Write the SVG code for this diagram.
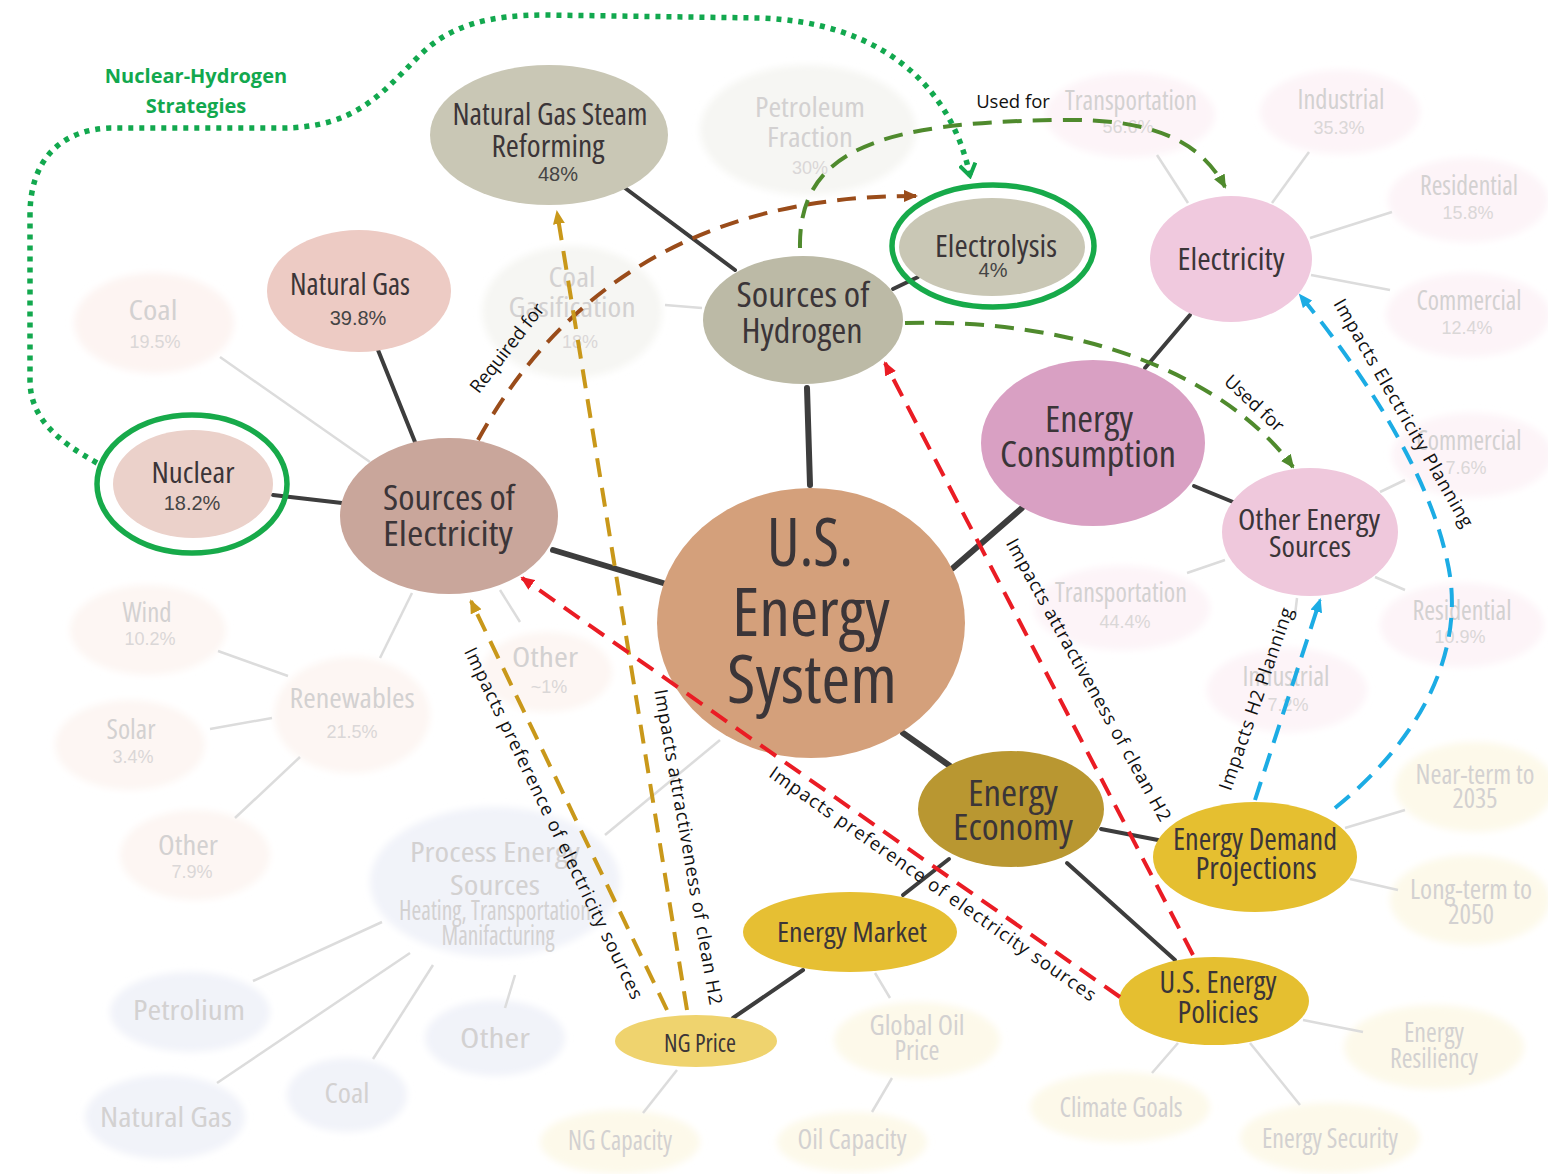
<svg xmlns="http://www.w3.org/2000/svg" width="1548" height="1174" viewBox="0 0 1548 1174">
<style>
  .t { font-family: 'Ubuntu Condensed','Open Sans','Noto Sans',sans-serif; font-stretch: condensed; text-anchor: middle; fill: #3b3538; }
  .ft { font-family: 'Ubuntu Condensed','Open Sans','Noto Sans',sans-serif; font-stretch: condensed; text-anchor: middle; fill: #d3d1d1; font-size: 28px; }
  .p { font-family: 'Liberation Sans',Arial,sans-serif; text-anchor: middle; fill: #444; font-size: 20px; }
  .fp { font-family: 'Liberation Sans',Arial,sans-serif; text-anchor: middle; fill: #dad7d7; font-size: 18px; }
  .lbl { font-family: 'Open Sans','Noto Sans',sans-serif; font-size: 18.5px; fill: #111; text-anchor: middle; }
  .strat { font-family: 'Open Sans','Noto Sans',sans-serif; font-size: 20px; font-weight: bold; fill: #12a84e; text-anchor: middle; }
  .link { stroke: #3d3d3d; stroke-width: 4; fill: none; stroke-linecap: round; }
  .link.main { stroke-width: 6; }
  .faint { stroke: #dcdcdc; stroke-width: 2.5; fill: none; }
  .dash { fill: none; stroke-width: 4; stroke-dasharray: 19 11; }
  .brown { stroke: #9a4c1a; }
  .green { stroke: #4f8a2d; }
  .gold { stroke: #c9981a; }
  .red { stroke: #ea1c24; }
  .blue { stroke: #1cace4; }
  .dots { fill: none; stroke: #12a84e; stroke-width: 5.5; stroke-dasharray: 5 6; }
  .ring { fill: none; stroke: #17aa4a; stroke-width: 5.5; }
  .soft { filter: url(#soft); }
  .fpink { fill: #fdf4f2; }
  .fgray { fill: #f6f6f3; }
  .fviolet { fill: #fdf4f8; }
  .fpeach { fill: #fdf6f3; }
  .fblue { fill: #f1f3f9; }
  .fyellow { fill: #fdf9ea; }
</style>
<defs>
  <filter id="soft" x="-20%" y="-20%" width="140%" height="140%">
    <feGaussianBlur stdDeviation="3.5"/>
  </filter>
  <marker id="a-brown" viewBox="0 0 14 12" refX="12" refY="6" markerWidth="14" markerHeight="12" markerUnits="userSpaceOnUse" orient="auto"><path d="M0,0 L14,6 L0,12 Z" fill="#9a4c1a"/></marker>
  <marker id="a-green" viewBox="0 0 14 12" refX="12" refY="6" markerWidth="14" markerHeight="12" markerUnits="userSpaceOnUse" orient="auto"><path d="M0,0 L14,6 L0,12 Z" fill="#4f8a2d"/></marker>
  <marker id="a-gold" viewBox="0 0 14 12" refX="12" refY="6" markerWidth="14" markerHeight="12" markerUnits="userSpaceOnUse" orient="auto"><path d="M0,0 L14,6 L0,12 Z" fill="#c9981a"/></marker>
  <marker id="a-red" viewBox="0 0 14 12" refX="12" refY="6" markerWidth="14" markerHeight="12" markerUnits="userSpaceOnUse" orient="auto"><path d="M0,0 L14,6 L0,12 Z" fill="#ea1c24"/></marker>
  <marker id="a-blue" viewBox="0 0 14 12" refX="12" refY="6" markerWidth="14" markerHeight="12" markerUnits="userSpaceOnUse" orient="auto"><path d="M0,0 L14,6 L0,12 Z" fill="#1cace4"/></marker>
  <marker id="a-dots" viewBox="0 0 16 18" refX="13" refY="9" markerWidth="16" markerHeight="18" markerUnits="userSpaceOnUse" orient="auto"><path d="M1,1 L13,9 L1,17" fill="none" stroke="#12a84e" stroke-width="4"/></marker>
</defs>

<rect width="1548" height="1174" fill="#ffffff"/>

<!-- faded secondary nodes -->
<g id="faded-nodes">
  <g id="n-coal-elec"><ellipse class="soft fpink" cx="154" cy="323" rx="80" ry="50"/><text class="ft" x="153" y="320" textLength="49" lengthAdjust="spacingAndGlyphs">Coal</text><text class="fp" x="155" y="348">19.5%</text></g>
  <g id="n-coal-gas"><ellipse class="soft fgray" cx="572" cy="312" rx="90" ry="66"/><text class="ft" x="572" y="287" textLength="47" lengthAdjust="spacingAndGlyphs">Coal</text><text class="ft" x="572" y="317" textLength="127" lengthAdjust="spacingAndGlyphs">Gasification</text><text class="fp" x="580" y="348">18%</text></g>
  <g id="n-petro-frac"><ellipse class="soft fgray" cx="808" cy="130" rx="108" ry="65"/><text class="ft" x="810" y="117" textLength="110" lengthAdjust="spacingAndGlyphs">Petroleum</text><text class="ft" x="810" y="147" textLength="86" lengthAdjust="spacingAndGlyphs">Fraction</text><text class="fp" x="810" y="174">30%</text></g>
  <g id="n-transp-elec"><ellipse class="soft fviolet" cx="1130" cy="115" rx="85" ry="42"/><text class="ft" x="1131" y="110" font-size="25" textLength="132" lengthAdjust="spacingAndGlyphs">Transportation</text><text class="fp" x="1128" y="133">56.6%</text></g>
  <g id="n-ind-elec"><ellipse class="soft fviolet" cx="1340" cy="112" rx="80" ry="42"/><text class="ft" x="1341" y="109" font-size="25" textLength="87" lengthAdjust="spacingAndGlyphs">Industrial</text><text class="fp" x="1339" y="134">35.3%</text></g>
  <g id="n-res-elec"><ellipse class="soft fviolet" cx="1468" cy="200" rx="80" ry="42"/><text class="ft" x="1469" y="195" font-size="25" textLength="98" lengthAdjust="spacingAndGlyphs">Residential</text><text class="fp" x="1468" y="219">15.8%</text></g>
  <g id="n-com-elec"><ellipse class="soft fviolet" cx="1468" cy="315" rx="82" ry="42"/><text class="ft" x="1469" y="310" font-size="25" textLength="105" lengthAdjust="spacingAndGlyphs">Commercial</text><text class="fp" x="1467" y="334">12.4%</text></g>
  <g id="n-com-other"><ellipse class="soft fviolet" cx="1472" cy="455" rx="80" ry="42"/><text class="ft" x="1469" y="450" font-size="25" textLength="105" lengthAdjust="spacingAndGlyphs">Commercial</text><text class="fp" x="1466" y="474">7.6%</text></g>
  <g id="n-res-other"><ellipse class="soft fviolet" cx="1462" cy="625" rx="82" ry="42"/><text class="ft" x="1462" y="620" font-size="25" textLength="99" lengthAdjust="spacingAndGlyphs">Residential</text><text class="fp" x="1460" y="643">10.9%</text></g>
  <g id="n-transp-other"><ellipse class="soft fviolet" cx="1122" cy="608" rx="88" ry="42"/><text class="ft" x="1121" y="602" font-size="25" textLength="132" lengthAdjust="spacingAndGlyphs">Transportation</text><text class="fp" x="1125" y="628">44.4%</text></g>
  <g id="n-ind-other"><ellipse class="soft fviolet" cx="1287" cy="690" rx="80" ry="42"/><text class="ft" x="1286" y="686" font-size="25" textLength="87" lengthAdjust="spacingAndGlyphs">Industrial</text><text class="fp" x="1288" y="711">7.2%</text></g>
  <g id="n-wind"><ellipse class="soft fpeach" cx="148" cy="630" rx="78" ry="45"/><text class="ft" x="147" y="622" font-size="25" textLength="49" lengthAdjust="spacingAndGlyphs">Wind</text><text class="fp" x="150" y="645">10.2%</text></g>
  <g id="n-solar"><ellipse class="soft fpeach" cx="130" cy="745" rx="75" ry="45"/><text class="ft" x="131" y="739" font-size="25" textLength="49" lengthAdjust="spacingAndGlyphs">Solar</text><text class="fp" x="133" y="763">3.4%</text></g>
  <g id="n-renew"><ellipse class="soft fpeach" cx="352" cy="715" rx="78" ry="58"/><text class="ft" x="352" y="708" textLength="125" lengthAdjust="spacingAndGlyphs">Renewables</text><text class="fp" x="352" y="738">21.5%</text></g>
  <g id="n-other-elec"><ellipse class="soft fpeach" cx="547" cy="672" rx="65" ry="40"/><text class="ft" x="545" y="667" textLength="66" lengthAdjust="spacingAndGlyphs">Other</text><text class="fp" x="549" y="693">~1%</text></g>
  <g id="n-other-renew"><ellipse class="soft fpeach" cx="195" cy="855" rx="75" ry="45"/><text class="ft" x="188" y="855" font-size="25" textLength="60" lengthAdjust="spacingAndGlyphs">Other</text><text class="fp" x="192" y="878">7.9%</text></g>
  <g id="n-process"><ellipse class="soft fblue" cx="495" cy="882" rx="125" ry="75"/><text class="ft" x="495" y="862" font-size="30" textLength="170" lengthAdjust="spacingAndGlyphs">Process Energy</text><text class="ft" x="495" y="895" font-size="30" textLength="90" lengthAdjust="spacingAndGlyphs">Sources</text><text class="ft" x="495" y="920" font-size="17" textLength="192" lengthAdjust="spacingAndGlyphs">Heating, Transportation</text><text class="ft" x="498" y="945" font-size="17" textLength="113" lengthAdjust="spacingAndGlyphs">Manifacturing</text></g>
  <g id="n-petrolium"><ellipse class="soft fblue" cx="190" cy="1012" rx="80" ry="40"/><text class="ft" x="189" y="1020" font-size="32" textLength="112" lengthAdjust="spacingAndGlyphs">Petrolium</text></g>
  <g id="n-natgas-proc"><ellipse class="soft fblue" cx="165" cy="1117" rx="80" ry="42"/><text class="ft" x="166" y="1127" font-size="32" textLength="132" lengthAdjust="spacingAndGlyphs">Natural Gas</text></g>
  <g id="n-coal-proc"><ellipse class="soft fblue" cx="347" cy="1095" rx="60" ry="37"/><text class="ft" x="347" y="1103" font-size="32" textLength="45" lengthAdjust="spacingAndGlyphs">Coal</text></g>
  <g id="n-other-proc"><ellipse class="soft fblue" cx="495" cy="1038" rx="70" ry="38"/><text class="ft" x="495" y="1048" font-size="32" textLength="70" lengthAdjust="spacingAndGlyphs">Other</text></g>
  <g id="n-ng-capacity"><ellipse class="soft fyellow" cx="620" cy="1142" rx="80" ry="32"/><text class="ft" x="620" y="1150" font-size="24" textLength="104" lengthAdjust="spacingAndGlyphs">NG Capacity</text></g>
  <g id="n-oil-price"><ellipse class="soft fyellow" cx="917" cy="1040" rx="83" ry="38"/><text class="ft" x="917" y="1035" font-size="23" textLength="95" lengthAdjust="spacingAndGlyphs">Global Oil</text><text class="ft" x="917" y="1060" font-size="23" textLength="45" lengthAdjust="spacingAndGlyphs">Price</text></g>
  <g id="n-oil-capacity"><ellipse class="soft fyellow" cx="852" cy="1142" rx="75" ry="30"/><text class="ft" x="852" y="1149" font-size="24" textLength="109" lengthAdjust="spacingAndGlyphs">Oil Capacity</text></g>
  <g id="n-near-term"><ellipse class="soft fyellow" cx="1475" cy="787" rx="80" ry="45"/><text class="ft" x="1475" y="784" font-size="22" textLength="119" lengthAdjust="spacingAndGlyphs">Near-term to</text><text class="ft" x="1475" y="808" font-size="22" textLength="45" lengthAdjust="spacingAndGlyphs">2035</text></g>
  <g id="n-long-term"><ellipse class="soft fyellow" cx="1470" cy="900" rx="80" ry="45"/><text class="ft" x="1471" y="899" font-size="22" textLength="122" lengthAdjust="spacingAndGlyphs">Long-term to</text><text class="ft" x="1471" y="924" font-size="22" textLength="46" lengthAdjust="spacingAndGlyphs">2050</text></g>
  <g id="n-resiliency"><ellipse class="soft fyellow" cx="1434" cy="1047" rx="90" ry="42"/><text class="ft" x="1434" y="1042" font-size="22" textLength="60" lengthAdjust="spacingAndGlyphs">Energy</text><text class="ft" x="1434" y="1068" font-size="22" textLength="88" lengthAdjust="spacingAndGlyphs">Resiliency</text></g>
  <g id="n-climate"><ellipse class="soft fyellow" cx="1120" cy="1107" rx="90" ry="35"/><text class="ft" x="1121" y="1117" font-size="24" textLength="123" lengthAdjust="spacingAndGlyphs">Climate Goals</text></g>
  <g id="n-security"><ellipse class="soft fyellow" cx="1330" cy="1138" rx="90" ry="35"/><text class="ft" x="1330" y="1148" font-size="24" textLength="136" lengthAdjust="spacingAndGlyphs">Energy Security</text></g>
</g>

<!-- tree links -->
<g id="connectors">
  <g id="faint-links">
    <line class="faint" x1="220" y1="357" x2="370" y2="462"/>
    <line class="faint" x1="412" y1="593" x2="380" y2="658"/>
    <line class="faint" x1="500" y1="590" x2="520" y2="622"/>
    <line class="faint" x1="665" y1="305" x2="702" y2="308"/>
    <line class="faint" x1="1188" y1="203" x2="1157" y2="155"/>
    <line class="faint" x1="1272" y1="203" x2="1309" y2="152"/>
    <line class="faint" x1="1310" y1="238" x2="1392" y2="212"/>
    <line class="faint" x1="1311" y1="275" x2="1390" y2="290"/>
    <line class="faint" x1="1380" y1="492" x2="1405" y2="480"/>
    <line class="faint" x1="1375" y1="577" x2="1405" y2="590"/>
    <line class="faint" x1="1225" y1="560" x2="1187" y2="573"/>
    <line class="faint" x1="1297" y1="598" x2="1295" y2="615"/>
    <line class="faint" x1="218" y1="651" x2="288" y2="676"/>
    <line class="faint" x1="210" y1="729" x2="272" y2="718"/>
    <line class="faint" x1="300" y1="757" x2="235" y2="818"/>
    <line class="faint" x1="720" y1="740" x2="605" y2="835"/>
    <line class="faint" x1="253" y1="981" x2="382" y2="922"/>
    <line class="faint" x1="217" y1="1083" x2="410" y2="953"/>
    <line class="faint" x1="373" y1="1059" x2="433" y2="965"/>
    <line class="faint" x1="505" y1="1008" x2="515" y2="975"/>
    <line class="faint" x1="875" y1="973" x2="890" y2="998"/>
    <line class="faint" x1="677" y1="1070" x2="643" y2="1113"/>
    <line class="faint" x1="892" y1="1078" x2="872" y2="1112"/>
    <line class="faint" x1="1345" y1="828" x2="1405" y2="810"/>
    <line class="faint" x1="1350" y1="879" x2="1398" y2="890"/>
    <line class="faint" x1="1303" y1="1020" x2="1363" y2="1032"/>
    <line class="faint" x1="1178" y1="1043" x2="1152" y2="1073"/>
    <line class="faint" x1="1250" y1="1043" x2="1300" y2="1105"/>
  </g>
  <g id="solid-links">
    <line class="link main" x1="663" y1="583" x2="553" y2="550"/>
    <line class="link main" x1="807" y1="388" x2="810" y2="485"/>
    <line class="link main" x1="953" y1="568" x2="1022" y2="508"/>
    <line class="link main" x1="903" y1="733" x2="950" y2="766"/>
    <line class="link" x1="273" y1="495" x2="342" y2="503"/>
    <line class="link" x1="378" y1="350" x2="415" y2="442"/>
    <line class="link" x1="625" y1="188" x2="735" y2="270"/>
    <line class="link" x1="893" y1="289" x2="918" y2="277"/>
    <line class="link" x1="1145" y1="368" x2="1190" y2="315"/>
    <line class="link" x1="1194" y1="486" x2="1233" y2="502"/>
    <line class="link" x1="1101" y1="829" x2="1158" y2="840"/>
    <line class="link" x1="1067" y1="863" x2="1175" y2="960"/>
    <line class="link" x1="949" y1="859" x2="903" y2="895"/>
    <line class="link" x1="803" y1="970" x2="733" y2="1018"/>
  </g>
</g>

<!-- primary nodes -->
<g id="nodes">
  <g id="n-us-energy"><ellipse cx="811" cy="623" rx="154" ry="135" fill="#d4a07b"/>
    <text class="t" x="810" y="566" font-size="68" textLength="86" lengthAdjust="spacingAndGlyphs">U.S.</text>
    <text class="t" x="811" y="636" font-size="68" textLength="158" lengthAdjust="spacingAndGlyphs">Energy</text>
    <text class="t" x="812" y="703" font-size="68" textLength="170" lengthAdjust="spacingAndGlyphs">System</text></g>
  <g id="n-src-elec"><ellipse cx="449" cy="516" rx="109" ry="78" fill="#c9a69b"/>
    <text class="t" x="449" y="510" font-size="34" textLength="132" lengthAdjust="spacingAndGlyphs">Sources of</text>
    <text class="t" x="448" y="546" font-size="34" textLength="130" lengthAdjust="spacingAndGlyphs">Electricity</text></g>
  <g id="n-nuclear"><ellipse cx="193" cy="484" rx="80" ry="54" fill="#ebd1ca"/>
    <text class="t" x="193" y="483" font-size="29" textLength="83" lengthAdjust="spacingAndGlyphs">Nuclear</text>
    <text class="p" x="192" y="510">18.2%</text>
    <ellipse class="ring" cx="192" cy="484" rx="95" ry="69"/></g>
  <g id="n-natgas"><ellipse cx="359" cy="291" rx="92" ry="61" fill="#edcbc4"/>
    <text class="t" x="350" y="295" font-size="30" textLength="120" lengthAdjust="spacingAndGlyphs">Natural Gas</text>
    <text class="p" x="358" y="325">39.8%</text></g>
  <g id="n-smr"><ellipse cx="549" cy="135" rx="119" ry="70" fill="#c9c7b5"/>
    <text class="t" x="550" y="125" font-size="30" textLength="195" lengthAdjust="spacingAndGlyphs">Natural Gas Steam</text>
    <text class="t" x="548" y="157" font-size="30" textLength="113" lengthAdjust="spacingAndGlyphs">Reforming</text>
    <text class="p" x="558" y="181">48%</text></g>
  <g id="n-src-h2"><ellipse cx="803" cy="320" rx="100" ry="64" fill="#bcbaa6"/>
    <text class="t" x="803" y="307" font-size="34" textLength="133" lengthAdjust="spacingAndGlyphs">Sources of</text>
    <text class="t" x="802" y="343" font-size="34" textLength="121" lengthAdjust="spacingAndGlyphs">Hydrogen</text></g>
  <g id="n-electrolysis"><ellipse cx="992" cy="247" rx="93" ry="49" fill="#c9c7b5"/>
    <text class="t" x="996" y="257" font-size="30" textLength="122" lengthAdjust="spacingAndGlyphs">Electrolysis</text>
    <text class="p" x="993" y="277">4%</text>
    <ellipse class="ring" cx="993" cy="246" rx="101" ry="61"/></g>
  <g id="n-electricity"><ellipse cx="1231" cy="259" rx="81" ry="63" fill="#f0c9de"/>
    <text class="t" x="1231" y="270" font-size="31" textLength="107" lengthAdjust="spacingAndGlyphs">Electricity</text></g>
  <g id="n-consumption"><ellipse cx="1093" cy="443" rx="112" ry="83" fill="#d9a0c3"/>
    <text class="t" x="1089" y="432" font-size="36" textLength="88" lengthAdjust="spacingAndGlyphs">Energy</text>
    <text class="t" x="1088" y="467" font-size="36" textLength="176" lengthAdjust="spacingAndGlyphs">Consumption</text></g>
  <g id="n-other-energy"><ellipse cx="1310" cy="532" rx="88" ry="64" fill="#efc8dc"/>
    <text class="t" x="1309" y="530" font-size="29" textLength="142" lengthAdjust="spacingAndGlyphs">Other Energy</text>
    <text class="t" x="1310" y="557" font-size="29" textLength="82" lengthAdjust="spacingAndGlyphs">Sources</text></g>
  <g id="n-economy"><ellipse cx="1011" cy="809" rx="93" ry="58" fill="#b99731"/>
    <text class="t" x="1013" y="806" font-size="36" textLength="90" lengthAdjust="spacingAndGlyphs">Energy</text>
    <text class="t" x="1013" y="840" font-size="36" textLength="120" lengthAdjust="spacingAndGlyphs">Economy</text></g>
  <g id="n-demand"><ellipse cx="1255" cy="857" rx="102" ry="55" fill="#e5bf30"/>
    <text class="t" x="1255" y="850" font-size="30" textLength="164" lengthAdjust="spacingAndGlyphs">Energy Demand</text>
    <text class="t" x="1256" y="879" font-size="30" textLength="121" lengthAdjust="spacingAndGlyphs">Projections</text></g>
  <g id="n-policies"><ellipse cx="1214" cy="1001" rx="95" ry="44" fill="#e5bf30"/>
    <text class="t" x="1218" y="993" font-size="30" textLength="117" lengthAdjust="spacingAndGlyphs">U.S. Energy</text>
    <text class="t" x="1218" y="1023" font-size="30" textLength="81" lengthAdjust="spacingAndGlyphs">Policies</text></g>
  <g id="n-market"><ellipse cx="850" cy="932" rx="107" ry="40" fill="#e6bf33"/>
    <text class="t" x="852" y="942" font-size="28" textLength="150" lengthAdjust="spacingAndGlyphs">Energy Market</text></g>
  <g id="n-ng-price"><ellipse cx="696" cy="1041" rx="81" ry="26" fill="#efd36e"/>
    <text class="t" x="700" y="1052" font-size="26" textLength="72" lengthAdjust="spacingAndGlyphs">NG Price</text></g>
</g>

<!-- influence links -->
<g id="influences">
  <path class="dots" d="M97,463 C60,442 30,420 30,380 L30,215 C30,160 60,130 110,128 L280,128 C355,128 380,95 420,55 C450,25 490,15 545,15 L760,18 C875,22 950,80 970,176" marker-end="url(#a-dots)"/>
  <path class="dash brown" d="M478,440 C555,300 690,195 916,196" marker-end="url(#a-brown)"/>
  <path class="dash green" d="M800,248 C798,150 880,122 1060,120 C1150,118 1200,140 1225,187" marker-end="url(#a-green)"/>
  <path class="dash green" d="M905,323 C1080,318 1225,375 1293,467" marker-end="url(#a-green)"/>
  <path class="dash gold" d="M667,1010 L471,601" marker-end="url(#a-gold)"/>
  <path class="dash gold" d="M687,1010 L557,212" marker-end="url(#a-gold)"/>
  <path class="dash red" d="M1120,997 L522,578" marker-end="url(#a-red)"/>
  <path class="dash red" d="M1193,955 L885,363" marker-end="url(#a-red)"/>
  <path class="dash blue" d="M1255,800 L1320,600" marker-end="url(#a-blue)"/>
  <path class="dash blue" d="M1335,808 C1420,740 1468,650 1447,560 C1432,490 1385,400 1300,295" marker-end="url(#a-blue)"/>
</g>

<!-- link labels -->
<g id="labels">
  <text class="strat" x="196" y="83">Nuclear-Hydrogen</text>
  <text class="strat" x="196" y="113">Strategies</text>
  <text class="lbl" transform="translate(512,352) rotate(-52)">Required for</text>
  <text class="lbl" x="1013" y="108">Used for</text>
  <text class="lbl" transform="translate(1250,408) rotate(43)">Used for</text>
  <text class="lbl" transform="translate(548,826) rotate(64.3)" textLength="388">Impacts preference  of electricity sources</text>
  <text class="lbl" transform="translate(682,848) rotate(80)" textLength="320">Impacts attractiveness of clean H2</text>
  <text class="lbl" transform="translate(929,889) rotate(35)" textLength="394">Impacts preference  of electricity sources</text>
  <text class="lbl" transform="translate(1083,683) rotate(61)" textLength="320">Impacts attractiveness of clean H2</text>
  <text class="lbl" transform="translate(1262,701) rotate(-71)" textLength="192">Impacts H2 Planning</text>
  <text class="lbl" transform="translate(1398,416) rotate(60)" textLength="260">Impacts Electricity Planning</text>
</g>
</svg>
